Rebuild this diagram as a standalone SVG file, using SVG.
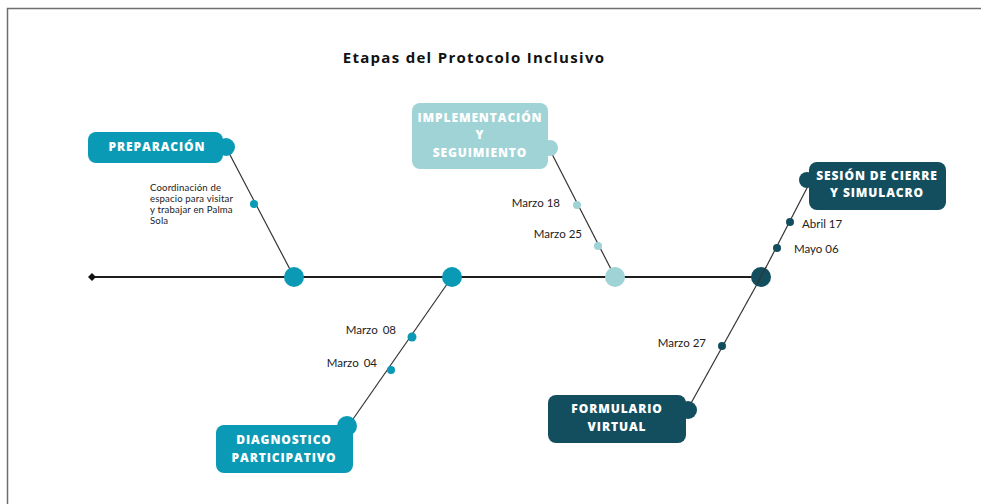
<svg xmlns="http://www.w3.org/2000/svg" width="981" height="504" viewBox="0 0 981 504">
<style>
.frame{fill:none;stroke:#6f6f6f;stroke-width:1.5}
.axis{stroke:#1e1e1e;stroke-width:2;fill:none}
.bone{stroke:#333;stroke-width:1.2;fill:none}
.teal{fill:#0a9ab5}
.light{fill:#9fd3d5}
.dark{fill:#134e5e}
.lbl{font-family:"Open Sans","DejaVu Sans",sans-serif;font-weight:800;font-size:12px;fill:#fff;letter-spacing:0.9px;text-anchor:middle}
.date{font-family:Lato,"Liberation Sans",sans-serif;font-size:11.5px;fill:#222}
.note{font-family:Lato,"Liberation Sans",sans-serif;font-size:9.6px;fill:#222;letter-spacing:0.15px}
.title{font-family:"Open Sans","DejaVu Sans",sans-serif;font-weight:700;font-size:15px;fill:#111;letter-spacing:1.3px;text-anchor:middle}
</style>
<rect width="981" height="504" fill="#fff"/>
<path class="frame" d="M7.5,504 V8.5 H981"/>
<text class="title" x="474" y="63">Etapas del Protocolo Inclusivo</text>
<g id="connectors">
<line class="axis" x1="92" y1="277" x2="761" y2="277"/>
<path d="M88,277 L92,273 L96,277 L92,281 Z" fill="#111"/>
<line class="bone" x1="229" y1="153" x2="294" y2="277"/>
<line class="bone" x1="552" y1="154" x2="615" y2="277"/>
<line class="bone" x1="452" y1="277" x2="351" y2="422"/>
<line class="bone" x1="808" y1="186" x2="761" y2="277"/>
<line class="bone" x1="761" y1="277" x2="690" y2="405"/>
</g>
<g id="axis-nodes">
<circle class="teal" cx="294" cy="277" r="10"/>
<circle class="teal" cx="452" cy="277" r="10"/>
<circle class="light" cx="615" cy="277" r="10"/>
<circle class="dark" cx="761" cy="277" r="10"/>
<line class="bone" x1="766" y1="267" x2="757" y2="284"/>
</g>
<g id="preparacion">
<rect class="teal" x="88" y="132" width="135" height="31" rx="8"/>
<circle class="teal" cx="226" cy="147" r="9"/>
<text class="lbl" x="157" y="151">PREPARACIÓN</text>
<circle class="teal" cx="254" cy="204" r="4"/>
<text class="note" x="150" y="191">Coordinación de</text>
<text class="note" x="150" y="202">espacio para visitar</text>
<text class="note" x="150" y="213">y trabajar en Palma</text>
<text class="note" x="150" y="224">Sola</text>
</g>
<g id="implementacion">
<rect class="light" x="412" y="103" width="136" height="66" rx="8"/>
<circle class="light" cx="550" cy="148" r="8"/>
<text class="lbl" x="480" y="122">IMPLEMENTACIÓN</text>
<text class="lbl" x="480" y="139">Y</text>
<text class="lbl" x="480" y="157">SEGUIMIENTO</text>
<circle class="light" cx="577" cy="205" r="4"/>
<circle class="light" cx="598" cy="246" r="4"/>
<text class="date" x="560" y="207" text-anchor="end">Marzo 18</text>
<text class="date" x="582" y="238" text-anchor="end">Marzo 25</text>
</g>
<g id="diagnostico">
<rect class="teal" x="216" y="425" width="137" height="48" rx="8"/>
<circle class="teal" cx="347" cy="426" r="10"/>
<text class="lbl" x="284" y="444">DIAGNOSTICO</text>
<text class="lbl" x="284" y="462">PARTICIPATIVO</text>
<circle class="teal" cx="412" cy="337" r="4.5"/>
<circle class="teal" cx="391" cy="370" r="4"/>
<text class="date" x="396" y="334" text-anchor="end" word-spacing="2">Marzo 08</text>
<text class="date" x="377" y="367" text-anchor="end" word-spacing="2">Marzo 04</text>
</g>
<g id="sesion">
<rect class="dark" x="809" y="162" width="137" height="48" rx="8"/>
<circle class="dark" cx="807" cy="180" r="8"/>
<text class="lbl" x="877" y="180">SESIÓN DE CIERRE</text>
<text class="lbl" x="877" y="197">Y SIMULACRO</text>
<circle class="dark" cx="790" cy="222" r="4"/>
<circle class="dark" cx="777" cy="248" r="4"/>
<text class="date" x="802" y="228">Abril 17</text>
<text class="date" x="794" y="253">Mayo 06</text>
</g>
<g id="formulario">
<rect class="dark" x="548" y="395" width="138" height="48" rx="8"/>
<circle class="dark" cx="688" cy="410" r="9"/>
<text class="lbl" x="617" y="413">FORMULARIO</text>
<text class="lbl" x="617" y="431">VIRTUAL</text>
<circle class="dark" cx="722" cy="346" r="4"/>
<text class="date" x="706" y="347" text-anchor="end">Marzo 27</text>
</g>
</svg>
